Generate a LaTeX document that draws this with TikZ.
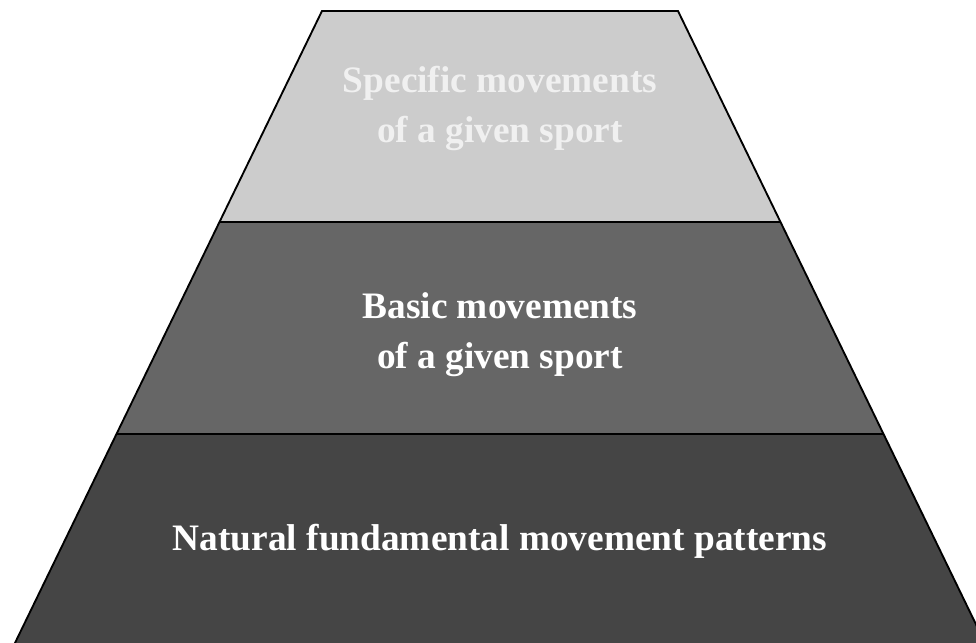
\documentclass[tikz,border=0pt]{standalone}
\usepackage{fontspec}
\setmainfont{Liberation Serif}

\begin{document}
\begin{tikzpicture}[x=0.75pt, y=-0.75pt, line width=1.4pt]
  \useasboundingbox (0,0) rectangle (976,643);
  \clip (0,0) rectangle (976,643);
  \coordinate (T1) at (322, 11);
  \coordinate (T2) at (678, 11);
  \coordinate (M1) at (220, 222);
  \coordinate (M2) at (780, 222);
  \coordinate (N1) at (117, 434);
  \coordinate (N2) at (883, 434);
  \coordinate (B1) at (14, 645);
  \coordinate (B2) at (986, 645);

  \fill[black!20] (T1) -- (T2) -- (M2) -- (M1) -- cycle;
  \fill[black!60] (M1) -- (M2) -- (N2) -- (N1) -- cycle;
  \fill[black!73] (N1) -- (N2) -- (B2) -- (B1) -- cycle;

  \draw (B1) -- (T1) -- (T2) -- (B2);
  \draw (M1) -- (M2);
  \draw (N1) -- (N2);

  \tikzset{layer/.style={text=white, align=center, font=\bfseries\fontsize{28}{37.5}\selectfont}}
  \node[layer, text=white!94!black] (top) at (500, 108) {Specific movements\\of a given sport};
  \node[layer] (mid) at (500, 335) {Basic movements\\of a given sport};
  \node[layer] (bot) at (500, 541) {Natural fundamental movement patterns};
\end{tikzpicture}
\end{document}
